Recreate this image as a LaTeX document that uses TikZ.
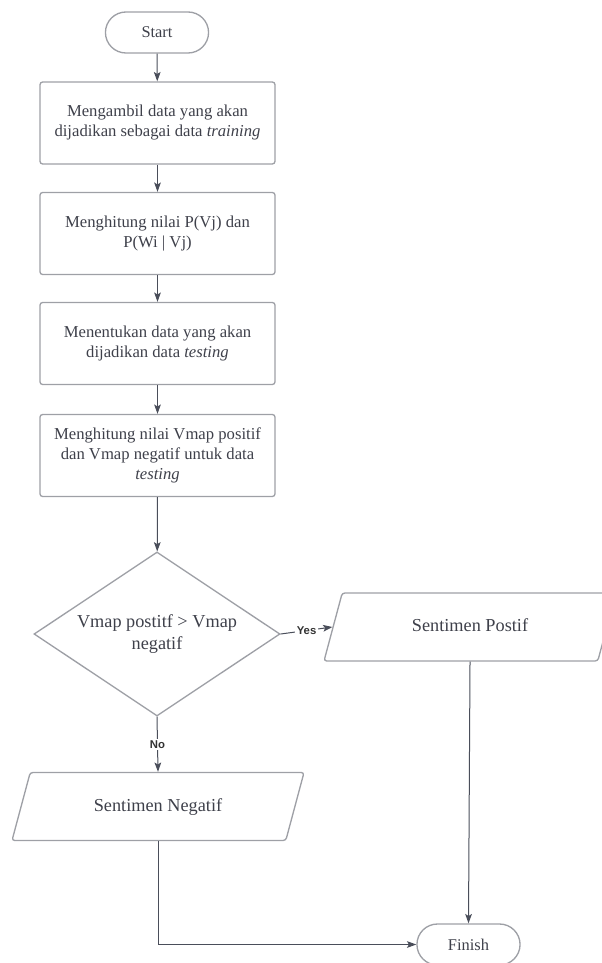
\documentclass[tikz,border=0pt]{standalone}
\usepackage{fontspec}
\setmainfont{Liberation Serif}
\newfontfamily\labelfont{Liberation Sans}
\usetikzlibrary{shapes.geometric,shapes.misc,arrows.meta}
\definecolor{garis}{RGB}{158,160,166}
\definecolor{panah}{RGB}{74,78,90}
\definecolor{teks}{RGB}{62,64,74}
\tikzset{
  terminal/.style={draw=garis, line width=1pt, rounded rectangle, minimum width=84pt, minimum height=30.75pt, font=\fontsize{12.3}{15}\selectfont, text=teks},
  proses/.style={draw=garis, line width=1pt, rounded corners=2pt, minimum width=176.25pt, minimum height=61.5pt, align=center, font=\fontsize{12.5}{15}\selectfont, text=teks},
  keputusan/.style={draw=garis, line width=1pt, diamond, aspect=1.5, minimum width=184.5pt, minimum height=123pt, inner sep=0pt, align=center, font=\fontsize{13.7}{16.5}\selectfont, text=teks},
  data/.style={draw=garis, line width=1pt, rounded corners=2pt, trapezium, trapezium left angle=75, trapezium right angle=105, trapezium stretches body, text height=10pt, text depth=3pt, inner ysep=19pt, minimum width=219pt, font=\fontsize{13.7}{16.5}\selectfont, text=teks},
  alur/.style={draw=panah, line width=0.75pt, -{Stealth[length=7pt,width=5pt,inset=1.5pt]}},
  ket/.style={font=\labelfont\bfseries\fontsize{8.5}{10}\selectfont, fill=white, inner sep=1pt, text=black!80}
}
\begin{document}
\begin{tikzpicture}[x=0.75pt,y=-0.75pt]
\useasboundingbox (0,0) rectangle (601,963);
% mulai
\node[terminal] (start) at (157,32.5) {Start};
% proses
\node[proses] (ambil) at (157.5,123) {Mengambil data yang akan\\dijadikan sebagai data \textit{training}};
\node[proses] (hitung) at (157.5,233.5) {Menghitung nilai P(Vj) dan\\P(Wi | Vj)};
\node[proses] (tentukan) at (157.5,343.5) {Menentukan data yang akan\\dijadikan data \textit{testing}};
\node[proses] (vmap) at (157.5,455.5) {Menghitung nilai Vmap positif\\dan Vmap negatif untuk data\\\textit{testing}};
% keputusan
\node[keputusan] (cek) at (157,634) {Vmap postitf > Vmap\\negatif};
% hasil
\node[data] (positif) at (470,627) {Sentimen Postif};
\node[data] (negatif) at (158,806.5) {Sentimen Negatif};
% selesai
\node[terminal] (finish) at (468.5,944.5) {Finish};
% alur
\draw[alur] (start) -- (ambil);
\draw[alur] (ambil) -- (hitung);
\draw[alur] (hitung) -- (tentukan);
\draw[alur] (tentukan) -- (vmap);
\draw[alur] (vmap) -- (cek);
\draw[alur] (cek.east) -- node[ket] {Yes} (positif.west);
\draw[alur] (cek.south) -- node[ket] {No} (negatif.north);
\draw[alur] (positif.south) -- (finish.north);
\draw[alur] (negatif.south) |- (finish.west);
\end{tikzpicture}
\end{document}
